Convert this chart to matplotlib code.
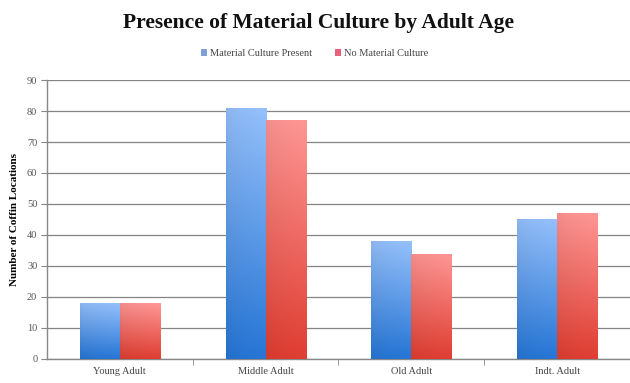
import matplotlib.pyplot as plt
import numpy as np
from matplotlib.patches import Patch

# Data
ages = ['Young Adult', 'Middle Adult', 'Old Adult', 'Indt. Adult']
present = [18, 81, 38, 45]
absent = [18, 77, 34, 47]

plt.rcParams['font.family'] = ['Liberation Serif', 'DejaVu Serif']

blue_top, blue_bot = np.array([148, 192, 252]) / 255, np.array([38, 118, 214]) / 255
red_top, red_bot = np.array([255, 150, 148]) / 255, np.array([224, 62, 50]) / 255


def gradient(top, bot):
    t = np.linspace(0, 1, 64)[:, None]           # 0 at bottom, 1 at top
    s = np.linspace(0, 1, 32)[None, :]
    shade = 0.93 + 0.07 * np.sqrt(s)              # slightly darker at left edge
    img = bot[None, None, :] * (1 - t[..., None]) + top[None, None, :] * t[..., None]
    img = img * shade[..., None]
    return np.clip(img, 0, 1)


x = np.arange(len(ages))
width = 0.275

fig = plt.figure(figsize=(6.3, 3.83), dpi=100)
ax = fig.add_axes([0.0746, 0.063, 0.9254, 0.728])

bars1 = ax.bar(x - width / 2, present, width, color='none', zorder=3)
bars2 = ax.bar(x + width / 2, absent, width, color='none', zorder=3)

for bars, (top, bot) in [(bars1, (blue_top, blue_bot)), (bars2, (red_top, red_bot))]:
    img = gradient(top, bot)
    for b in bars:
        x0, h = b.get_x(), b.get_height()
        im = ax.imshow(img, extent=(x0, x0 + b.get_width(), 0, h), origin='lower',
                       aspect='auto', zorder=3, interpolation='bilinear')
        im.set_clip_path(b)

ax.set_xlim(-0.5, len(ages) - 0.5)
ax.set_ylim(0, 90)

ax.set_yticks(np.arange(0, 91, 10))
ax.set_xticks(x)
ax.set_xticklabels(ages)
ax.set_xticks(np.arange(0.5, len(ages) - 0.5, 1), minor=True)
ax.tick_params(axis='x', which='major', length=0, labelsize=7.5, colors='#444444', pad=6)
ax.tick_params(axis='x', which='minor', length=4, color='#888888')
ax.tick_params(axis='y', length=4, color='#888888', labelsize=7.5, labelcolor='#555555', pad=3)

ax.grid(axis='y', color='#858585', linewidth=0.9, zorder=0)
ax.set_axisbelow(True)
for side in ['top', 'right']:
    ax.spines[side].set_visible(False)
for side in ['left', 'bottom']:
    ax.spines[side].set_color('#888888')
    ax.spines[side].set_linewidth(1.0)

ax.set_ylabel('Number of Coffin Locations', fontsize=8, fontweight='bold', labelpad=6)

fig.suptitle('Presence of Material Culture by Adult Age', x=0.505, y=0.965,
             fontsize=15.5, fontweight='bold', color='#111111')

handles = [Patch(facecolor='#7f9fd6', label='Material Culture Present'),
           Patch(facecolor='#e8607a', label='No Material Culture')]
fig.legend(handles=handles, loc='center', bbox_to_anchor=(0.5, 0.86), ncol=2, frameon=False,
           fontsize=7.5, handlelength=0.55, handleheight=0.55, handletextpad=0.3,
           columnspacing=2.2, labelcolor='#444444')

plt.savefig('out.png', dpi=100)
